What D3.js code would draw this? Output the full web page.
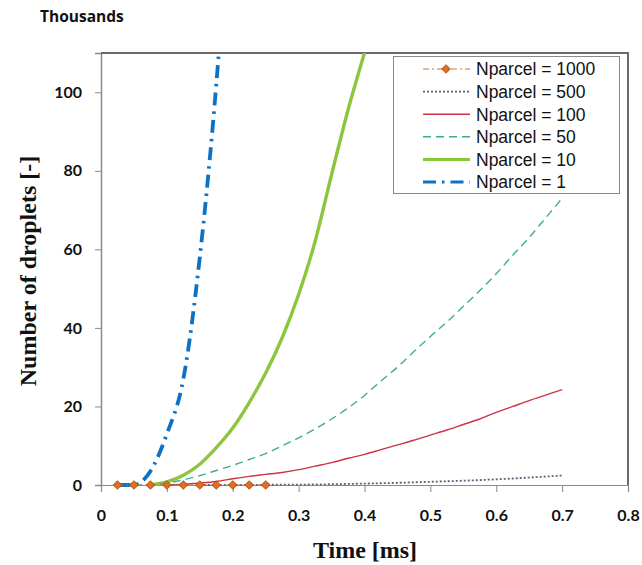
<!DOCTYPE html>
<html>
<head>
<meta charset="utf-8">
<script src="https://cdn.jsdelivr.net/npm/d3@7"></script>
<style>
  body { margin: 0; background: #fff; }
  svg { display: block; }
</style>
</head>
<body>
<svg id="chart" width="642" height="565"></svg>
<script>
// Time samples [ms]
const time = [0.025, 0.05, 0.075, 0.1, 0.125, 0.15, 0.175, 0.2, 0.225, 0.25,
              0.275, 0.3, 0.325, 0.35, 0.375, 0.4, 0.425, 0.45, 0.475, 0.5,
              0.525, 0.55, 0.575, 0.6, 0.625, 0.65, 0.675, 0.7];

// Number of droplets [thousands], aligned with `time` (null = no sample)
const nparcel1000 = [0, 0, 0, 0, 0, 0, 0, 0, 0, 0];
const nparcel500  = [null, null, null, null, null, 0, 0, 0.02, 0.04, 0.06,
                     0.08, 0.1, 0.15, 0.2, 0.28, 0.36, 0.45, 0.55, 0.68, 0.82,
                     0.95, 1.1, 1.25, 1.45, 1.65, 1.9, 2.15, 2.4];
const nparcel100  = [null, null, null, 0, 0.2, 0.5, 0.9, 1.6, 2.2, 2.7,
                     3.2, 3.9, 4.8, 5.7, 6.8, 7.8, 9.0, 10.2, 11.4, 12.7,
                     14.0, 15.4, 16.8, 18.5, 20.0, 21.5, 22.9, 24.3];
const nparcel50   = [null, 0, 0.1, 0.5, 1.3, 2.4, 3.7, 5.0, 6.5, 8.0,
                     10.0, 12.0, 14.3, 16.8, 19.6, 22.8, 26.5, 30.0, 34.0, 37.8,
                     41.5, 45.5, 49.5, 53.8, 58.5, 63.0, 68.0, 73.0];
const nparcel10   = [null, null, 0, 0.8, 2.5, 5.3, 9.5, 14.5, 21.0, 28.5,
                     37.5, 48.5, 62.0, 79.0, 95.5, 110.0];
const nparcel1    = [0, 0, 3.5, 13, 27, 58, 102, 160];

const xTicks = [0, 0.1, 0.2, 0.3, 0.4, 0.5, 0.6, 0.7, 0.8];
const yTicks = [0, 20, 40, 60, 80, 100];

const seriesNames = ["Nparcel = 1000", "Nparcel = 500", "Nparcel = 100",
                     "Nparcel = 50", "Nparcel = 10", "Nparcel = 1"];
const seriesValues = [nparcel1000, nparcel500, nparcel100, nparcel50, nparcel10, nparcel1];

const styles = [
  { color: "#cf7a3a", width: 1.2, dash: "6,3,2,3", marker: true },
  { color: "#56657a", width: 1.8, dash: "2,2" },
  { color: "#cc3344", width: 1.4, dash: null },
  { color: "#3fae8c", width: 1.4, dash: "8,5" },
  { color: "#8cc63f", width: 3.4, dash: null },
  { color: "#0d72c4", width: 3.8, dash: "13,6,2.5,6" }
];

const svg = d3.select("#chart");
const plot = { left: 101, top: 53, right: 628, bottom: 485 };

const x = d3.scaleLinear().domain([0, 0.8]).range([plot.left, plot.right]);
const y = d3.scaleLinear().domain([0, 110]).range([plot.bottom, plot.top]);

svg.append("clipPath").attr("id", "plotClip")
  .append("rect")
  .attr("x", plot.left).attr("y", plot.top)
  .attr("width", plot.right - plot.left).attr("height", plot.bottom - plot.top + 6);

// Y axis
const yAxis = svg.append("g")
  .attr("transform", `translate(${plot.left},0)`)
  .call(d3.axisLeft(y).tickValues(yTicks).tickSize(6).tickPadding(13).tickFormat(d3.format("d")));
yAxis.select(".domain").attr("stroke", "#8a8a8a").attr("stroke-width", 1.5);
yAxis.selectAll(".tick line").attr("stroke", "#8a8a8a");
yAxis.selectAll(".tick text")
  .attr("font-family", "Lato, 'Open Sans', sans-serif")
  .attr("font-weight", "bold").attr("font-size", 16).attr("fill", "#111");

// X axis on the zero line
const xAxis = svg.append("g")
  .attr("transform", `translate(0,${plot.bottom})`)
  .call(d3.axisBottom(x).tickValues(xTicks).tickSize(7).tickPadding(18)
        .tickFormat(d => d === 0 ? "0" : d3.format(".1f")(d)));
xAxis.select(".domain").attr("stroke", "#8a8a8a").attr("stroke-width", 1.2);
xAxis.selectAll(".tick line").attr("stroke", "#8a8a8a");
xAxis.selectAll(".tick text")
  .attr("font-family", "Lato, 'Open Sans', sans-serif")
  .attr("font-weight", "bold").attr("font-size", 16).attr("fill", "#111");

// Frame: top and right edges
svg.append("path")
  .attr("d", `M${plot.left},${plot.top}H${plot.right}V${plot.bottom}`)
  .attr("fill", "none").attr("stroke", "#6a6a6a").attr("stroke-width", 2);

// Series lines (smoothed)
const line = d3.line()
  .defined(d => d.v !== null && d.v !== undefined)
  .curve(d3.curveMonotoneX)
  .x(d => x(d.t)).y(d => y(d.v));

const pointsOf = vals => vals.map((v, i) => ({ t: time[i], v: v }));

const lines = svg.append("g").attr("clip-path", "url(#plotClip)");
// thick curves underneath, markers on top
[5, 4, 3, 2, 1, 0].forEach(i => {
  const s = styles[i];
  lines.append("path")
    .datum(pointsOf(seriesValues[i]))
    .attr("d", line)
    .attr("fill", "none")
    .attr("stroke", s.color)
    .attr("stroke-width", s.width)
    .attr("stroke-dasharray", s.dash)
    .attr("stroke-linejoin", "round");
});

// rotated square marker
const marker = d3.symbol().type(d3.symbolSquare).size(34);
lines.append("g").selectAll("path")
  .data(pointsOf(nparcel1000))
  .join("path")
  .attr("transform", d => `translate(${x(d.t)},${y(d.v)}) rotate(45)`)
  .attr("d", marker)
  .attr("fill", "#e07020")
  .attr("stroke", "#b5581c")
  .attr("stroke-width", 1);

// Legend
const legend = svg.append("g");
legend.append("rect")
  .attr("x", 393.5).attr("y", 56.5).attr("width", 226).attr("height", 137)
  .attr("fill", "#fff").attr("stroke", "#8a8a8a").attr("stroke-width", 1);

seriesNames.forEach((name, i) => {
  const yy = 69 + i * 22.6;
  const s = styles[i];
  legend.append("line")
    .attr("x1", 423).attr("x2", 470).attr("y1", yy).attr("y2", yy)
    .attr("stroke", s.color).attr("stroke-width", Math.min(s.width, 3))
    .attr("stroke-dasharray", s.dash);
  if (s.marker) {
    legend.append("path")
      .attr("transform", `translate(446,${yy}) rotate(45)`)
      .attr("d", marker)
      .attr("fill", "#e07020").attr("stroke", "#b5581c");
  }
  legend.append("text")
    .attr("x", 476).attr("y", yy).attr("dy", "0.36em")
    .attr("font-family", "'Liberation Sans', Arial, sans-serif")
    .attr("font-size", 17.5).attr("fill", "#111")
    .text(name);
});

// Units note and axis titles
svg.append("text")
  .attr("x", 40).attr("y", 22)
  .attr("font-family", "'Open Sans', Lato, sans-serif")
  .attr("font-weight", "bold").attr("font-size", 15.5).attr("fill", "#111")
  .text("Thousands");

svg.append("text")
  .attr("transform", `translate(36,${(plot.top + plot.bottom) / 2 + 2}) rotate(-90)`)
  .attr("text-anchor", "middle")
  .attr("font-family", "'Liberation Serif', 'Times New Roman', serif")
  .attr("font-weight", "bold").attr("font-size", 24).attr("fill", "#111")
  .text("Number of droplets [-]");

svg.append("text")
  .attr("x", 365).attr("y", 558)
  .attr("text-anchor", "middle")
  .attr("font-family", "'Liberation Serif', 'Times New Roman', serif")
  .attr("font-weight", "bold").attr("font-size", 24).attr("fill", "#111")
  .text("Time [ms]");
</script>
</body>
</html>
